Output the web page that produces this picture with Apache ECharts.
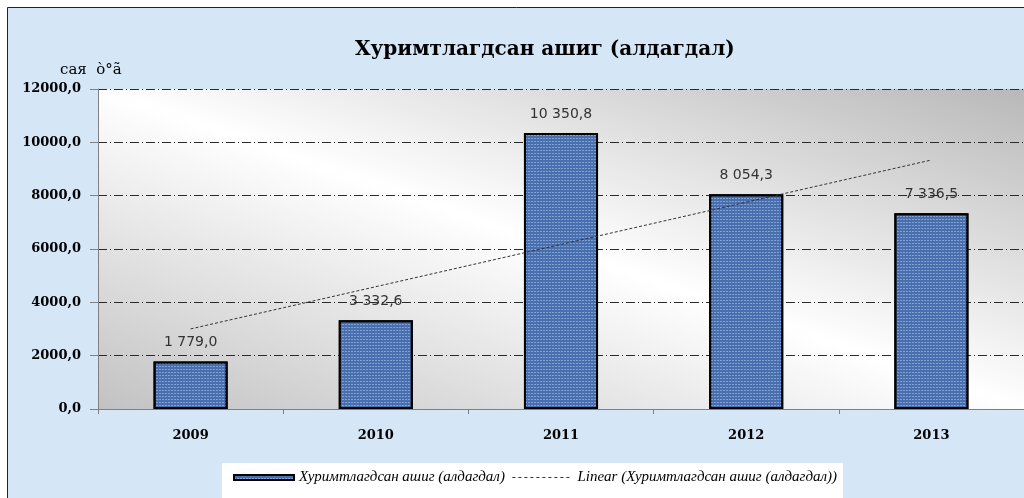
<!DOCTYPE html>
<html>
<head>
<meta charset="utf-8">
<script src="https://cdn.jsdelivr.net/npm/echarts@6/dist/echarts.min.js"></script>
<style>
html,body{margin:0;padding:0;background:#fff;}
#c{width:1024px;height:498px;}
</style>
</head>
<body>
<div id="c"></div>
<script>
const categories = ['2009', '2010', '2011', '2012', '2013'];
const values = [1779.0, 3332.6, 10350.8, 8054.3, 7336.5];
const yTicks = [0, 2000, 4000, 6000, 8000, 10000, 12000];
const titleText = 'Хуримтлагдсан ашиг (алдагдал)';
const unitText = 'сая  ò°ã';
const seriesName = 'Хуримтлагдсан ашиг (алдагдал)';
const trendName = 'Linear (Хуримтлагдсан ашиг (алдагдал))';

// linear trendline (least squares) from the data, like Excel's "Linear" trendline
const n = values.length;
const xs = values.map((v, i) => i + 1);
const mx = xs.reduce((a, b) => a + b, 0) / n;
const my = values.reduce((a, b) => a + b, 0) / n;
let sxy = 0, sxx = 0;
for (let i = 0; i < n; i++) { sxy += (xs[i] - mx) * (values[i] - my); sxx += (xs[i] - mx) ** 2; }
const slope = sxy / sxx, icpt = my - slope * mx;
const trend = xs.map(x => icpt + slope * x);

function fmtAxis(v) { return v.toFixed(1).replace('.', ','); }
function fmtLabel(v) {
  const s = v.toFixed(1).split('.');
  return s[0].replace(/\B(?=(\d{3})+(?!\d))/g, ' ') + ',' + s[1];
}

const chart = echarts.init(document.getElementById('c'), null, {renderer: 'canvas'});
chart.setOption({
  animation: false,
  backgroundColor: '#ffffff',
  graphic: [
    {type: 'rect', z: -10, shape: {x: 7.5, y: 7.5, width: 1030, height: 500},
     style: {fill: '#d5e6f7', stroke: '#222', lineWidth: 1}},
    {type: 'text', left: 60, top: 63, z: 10,
     style: {text: unitText, font: '15px "DejaVu Serif"', fill: '#000'}}
  ],
  title: {
    text: titleText, left: 350, top: 35,
    textStyle: {fontFamily: 'DejaVu Serif', fontWeight: 'bold', fontSize: 20, color: '#000'}
  },
  legend: {
    left: 222, top: 463,
    backgroundColor: '#ffffff',
    padding: [7, 6, 14, 11],
    itemWidth: 60, itemHeight: 5, itemGap: 7,
    textStyle: {fontFamily: 'Liberation Serif', fontStyle: 'italic', fontSize: 15, color: '#000'},
    data: [
      {name: seriesName, icon: 'rect'},
      {name: trendName, itemStyle: {opacity: 0}, lineStyle: {color: '#333', width: 1, type: [3, 3]}}
    ]
  },
  grid: {
    left: 98, right: 0, top: 89, bottom: 89,
    show: true, borderWidth: 0,
    backgroundColor: {
      type: 'linear', global: true, x: 462, y: 535, x2: 660, y2: -37,
      colorStops: [
        {offset: 0, color: '#c2c2c2'},
        {offset: 0.5, color: '#ffffff'},
        {offset: 1, color: '#b8b8b8'}
      ]
    }
  },
  xAxis: {
    type: 'category', data: categories,
    axisLine: {lineStyle: {color: '#808080', width: 1}},
    axisTick: {show: true, length: 5, inside: false, alignWithLabel: false, lineStyle: {color: '#808080'}},
    axisLabel: {margin: 20, fontFamily: 'DejaVu Serif', fontWeight: 'bold', fontSize: 13, color: '#000'},
    splitLine: {show: false}
  },
  yAxis: {
    type: 'value', min: yTicks[0], max: yTicks[yTicks.length - 1], interval: yTicks[1] - yTicks[0],
    axisLine: {show: true, lineStyle: {color: '#808080', width: 1}},
    axisTick: {show: true, length: 8, lineStyle: {color: '#808080'}},
    axisLabel: {margin: 17, formatter: fmtAxis, fontFamily: 'DejaVu Serif', fontWeight: 'bold', fontSize: 13, color: '#000'},
    splitLine: {show: true, lineStyle: {color: '#2a2a2a', width: 1, type: [9, 3, 1, 3]}}
  },
  series: [
    {
      name: seriesName, type: 'bar', data: values, barWidth: '40%',
      itemStyle: {
        color: '#4a6fae', borderColor: '#000', borderWidth: 2,
        decal: {symbol: 'rect', symbolSize: 1, color: 'rgba(175,200,240,0.55)',
                dashArrayX: [2, 1], dashArrayY: [1, 2], rotation: 0}
      },
      label: {
        show: true, position: 'top', distance: 12, formatter: p => fmtLabel(p.value),
        fontFamily: 'DejaVu Sans', fontSize: 14, color: '#333'
      },
      z: 2
    },
    {
      name: trendName, type: 'line', data: trend, symbol: 'none',
      lineStyle: {color: '#333', width: 1, type: [3, 2]},
      itemStyle: {color: '#333'},
      z: 3
    }
  ]
});
</script>
</body>
</html>
